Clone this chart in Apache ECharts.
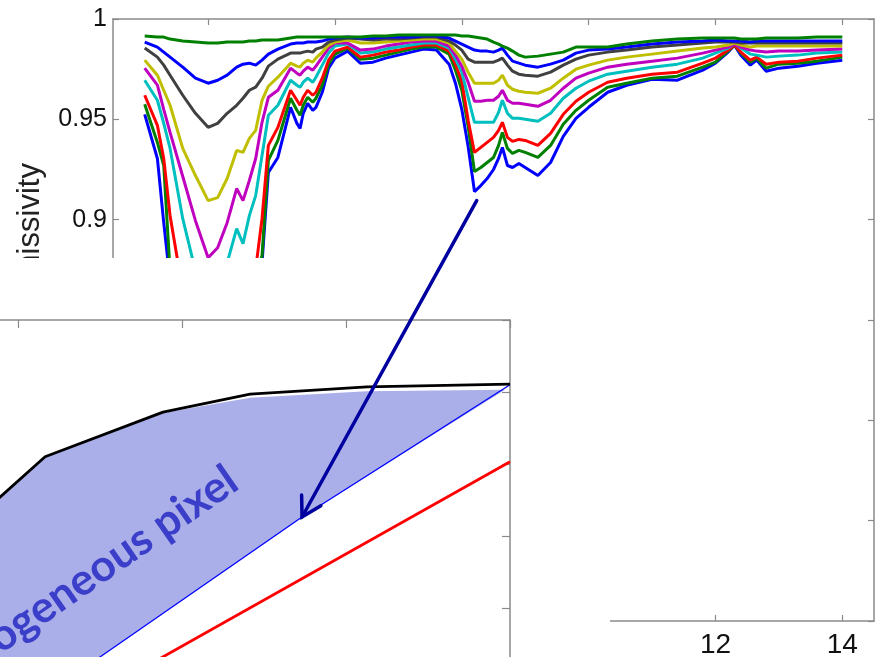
<!DOCTYPE html>
<html>
<head>
<meta charset="utf-8">
<script src="https://cdn.jsdelivr.net/npm/echarts@6/dist/echarts.min.js"></script>
<style>
  html, body { margin: 0; padding: 0; background: #fff; }
  #chart { width: 876px; height: 657px; }
</style>
</head>
<body>
<div id="chart"></div>
<script>
// ---- spectra (top panel) ----
const wavelength = [3.0,3.2,3.3,3.4,3.6,3.8,4.0,4.15,4.3,4.45, 4.55,4.65,4.75,4.85,4.95,5.1,5.3,5.4,5.45,5.5, 5.57,5.65,5.7,5.8,5.9,6.0,6.2,6.4,6.6,6.8, 7.0,7.2,7.4,7.6,7.8,7.9,8.0,8.1,8.2,8.3, 8.4,8.5,8.58,8.64,8.72,8.8,8.9,9.0,9.2,9.4, 9.6,9.8,10.0,10.3,10.6,11.0,11.4,11.8,12.0,12.2, 12.3,12.4,12.55,12.65,12.8,13.0,13.3,13.6,14.0];

const emisBlue1 = [.9525,.9305,.8985,.8695,.8445,.8295,.822,.8245,.8295,.8395, .847,.857,.8645,.8785,.9235,.931,.956,.948,.9455,.953, .958,.9545,.956,.9635,.9755,.9805,.984,.978,.9785,.9805, .982,.9835,.985,.9845,.9775,.968,.955,.9365,.914,.917, .9205,.925,.9305,.936,.927,.926,.928,.926,.922,.9285, .9415,.9505,.956,.9635,.967,.970,.9695,.9745,.978,.9835, .987,.982,.977,.9795,.974,.9755,.9765,.978,.9795];
const emisGreen1 = [.9575,.9385,.927,.8745,.8545,.8395,.832,.8345,.8395,.8495, .857,.8645,.872,.882,.9295,.9395,.9605,.9545,.952,.957, .961,.9585,.9605,.967,.9775,.9825,.9855,.980,.9805,.982, .9835,.985,.986,.986,.9825,.9745,.9645,.9465,.924,.926, .9285,.931,.937,.9435,.9355,.933,.9345,.9335,.931,.937, .9475,.9545,.9595,.966,.968,.9705,.9715,.976,.9785,.984, .987,.983,.9785,.9805,.9755,.9775,.978,.979,.981];
const emisRed = [.962,.947,.9305,.902,.8645,.8495,.842,.8445,.8495,.857, .862,.8695,.8755,.9005,.937,.946,.9645,.9595,.957,.961, .9645,.962,.9635,.9705,.9795,.984,.986,.981,.982,.9835, .9845,.986,.987,.987,.984,.9775,.969,.9495,.9335,.936, .9385,.941,.9445,.9485,.941,.939,.940,.9395,.937,.943, .9525,.959,.9635,.9685,.9705,.9725,.9735,.978,.9805,.9845, .987,.9835,.9795,.981,.9775,.9785,.979,.9805,.982];
const emisCyan = [.9695,.9595,.948,.9355,.9005,.8745,.8645,.867,.8785,.8955, .888,.902,.912,.932,.952,.957,.9695,.967,.966,.9685, .9705,.9685,.971,.977,.983,.9865,.9875,.983,.9835,.985, .986,.987,.988,.988,.9855,.980,.9735,.961,.9485,.9485, .9485,.9485,.9535,.9595,.953,.9505,.9505,.950,.949,.953, .9605,.9655,.969,.9725,.974,.976,.9775,.9805,.983,.9855, .9875,.9855,.9825,.982,.981,.9815,.982,.983,.9835];
const emisMagenta = [.9755,.967,.955,.9435,.9215,.8995,.881,.886,.8985,.9155, .9095,.9195,.9305,.9485,.961,.9645,.9755,.973,.972,.974, .976,.9745,.9765,.981,.9855,.988,.988,.9845,.985,.9865, .9875,.9885,.989,.989,.9865,.982,.9765,.9685,.959,.959, .9595,.9595,.9615,.9645,.9595,.958,.958,.9575,.9565,.9595, .9655,.9705,.973,.976,.9775,.979,.9805,.983,.9845,.986, .9875,.986,.9845,.984,.9835,.984,.984,.9845,.985];
const emisYellow = [.9795,.972,.9645,.957,.9355,.922,.9095,.911,.9205,.9345, .9335,.9405,.9445,.9595,.9665,.971,.978,.9765,.976,.978, .9795,.9785,.9805,.9835,.987,.9885,.9895,.988,.988,.9885, .989,.9895,.990,.990,.988,.984,.980,.9735,.968,.968, .968,.968,.9695,.972,.967,.965,.964,.9635,.963,.9655, .9705,.975,.977,.9795,.981,.9825,.984,.9855,.986,.987, .988,.987,.986,.9865,.9865,.9865,.9865,.9865,.9865];
const emisBlack = [.9855,.981,.977,.972,.962,.953,.946,.948,.953,.957, .9605,.9645,.966,.9705,.9765,.980,.983,.983,.983,.9835, .984,.9835,.985,.986,.9885,.9895,.9905,.990,.9895,.990, .990,.9905,.991,.991,.989,.987,.9845,.980,.9785,.9785, .9785,.9785,.9795,.9805,.977,.974,.9725,.972,.9715,.9735, .977,.980,.982,.9835,.9845,.986,.987,.988,.9885,.9885, .9885,.988,.988,.988,.988,.988,.988,.988,.988];
const emisBlue2 = [.9885,.986,.9835,.981,.976,.9705,.968,.9695,.972,.976, .9775,.978,.977,.9795,.9825,.985,.9875,.988,.988,.988, .9885,.9885,.9885,.989,.990,.9905,.991,.9905,.9905,.991, .991,.991,.9915,.9915,.9905,.989,.9875,.986,.9845,.984, .984,.9835,.9845,.9855,.982,.979,.978,.977,.976,.9775, .9795,.983,.9845,.985,.986,.9875,.9885,.989,.9895,.989, .989,.989,.9885,.989,.989,.989,.989,.989,.989];
const emisGreen2 = [.9915,.991,.991,.990,.989,.9885,.988,.988,.9885,.9885, .9885,.989,.989,.9895,.9895,.9895,.9905,.991,.991,.991, .991,.991,.991,.991,.991,.991,.991,.991,.9915,.9915, .992,.992,.992,.992,.992,.992,.9915,.9915,.991,.9905, .990,.9885,.9875,.9865,.9855,.984,.982,.981,.9815,.9825, .9835,.986,.986,.986,.9875,.989,.990,.9905,.9905,.9905, .9905,.990,.990,.990,.9905,.9905,.9905,.991,.991];

const xTickValues = [4, 6, 8, 10, 12, 14];

// ---- inset panel ----
const envelopeX = [0.5, 0.89, 1.165, 1.884, 2.415, 3.128, 4.0];
const envelopeY = [1.75, 2.54, 3.10, 3.72, 3.97, 4.07, 4.11];
const fillTopX = [0.5, 0.89, 1.165, 1.884, 2.415, 3.128, 3.97];
const fillTopY = [1.75, 2.54, 3.10, 3.71, 3.92, 4.01, 4.03];
const blueX = [0.5, 1.5, 2.732, 4.0];
const blueY = [-1.26, 0.32, 2.264, 4.10];
const redX = [1.5, 4.0];
const redY = [-0.17, 3.03];

// arrow: from a point on the top spectra to the blue line of the inset
const arrowFrom = [8.235, 0.9095];
const arrowTo = [2.732, 2.264];

const gray = '#8a8a8a';
const chart = echarts.init(document.getElementById('chart'));

function pairs(xs, ys) {
  return xs.map((x, i) => [x, ys[i]]);
}

const spectra = [
  ['#0000ff', emisBlue1], ['#008000', emisGreen1], ['#ff0000', emisRed],
  ['#00bfbf', emisCyan], ['#bf00bf', emisMagenta], ['#bfbf00', emisYellow],
  ['#404040', emisBlack], ['#0000ff', emisBlue2], ['#008000', emisGreen2]
];

const spectraSeries = spectra.map(([color, vals], i) => ({
  type: 'line',
  xAxisIndex: 0,
  yAxisIndex: 0,
  data: pairs(wavelength, vals),
  showSymbol: false,
  lineStyle: { color: color, width: 3 },
  z: 2 + i * 0.01,
  silent: true
}));

function frameAxis(extra) {
  return Object.assign({
    type: 'value',
    axisLine: { show: true, onZero: false, lineStyle: { color: gray, width: 1.5 } },
    axisTick: { show: true, inside: true, length: 6, lineStyle: { color: gray, width: 1.2 } },
    axisLabel: { show: false },
    splitLine: { show: false }
  }, extra);
}

const option = {
  animation: false,
  backgroundColor: '#fff',
  grid: [
    { left: 113, top: 19, width: 761, height: 602, outerBoundsMode: 'none', containLabel: false },
    { left: -146, top: 320, width: 656, height: 432, outerBoundsMode: 'none', containLabel: false }
  ],
  xAxis: [
    frameAxis({
      gridIndex: 0, min: 2.5, max: 14.5, position: 'bottom',
      axisTick: { inside: true, length: 6, customValues: xTickValues, lineStyle: { color: gray, width: 1.2 } },
      axisLabel: { customValues: xTickValues, fontSize: 28, margin: 10, color: '#111', fontFamily: 'Liberation Sans' }
    }),
    frameAxis({
      gridIndex: 0, min: 2.5, max: 14.5, position: 'top',
      axisTick: { inside: true, length: 6, customValues: xTickValues, lineStyle: { color: gray, width: 1.2 } }
    }),
    frameAxis({
      gridIndex: 1, min: 0, max: 4, interval: 1, position: 'top', z: 10,
      axisTick: { inside: true, length: 8, lineStyle: { color: gray, width: 1.2 } }
    })
  ],
  yAxis: [
    frameAxis({
      gridIndex: 0, min: 0.7, max: 1, interval: 0.05, position: 'left',
      axisLabel: { fontSize: 25, margin: 6, color: '#111', fontFamily: 'Liberation Sans' }
    }),
    frameAxis({ gridIndex: 0, min: 0.7, max: 1, interval: 0.05, position: 'right' }),
    frameAxis({
      gridIndex: 1, min: -1, max: 5, interval: 1, position: 'right', z: 10,
      axisTick: { inside: true, length: 8, lineStyle: { color: gray, width: 1.2 } }
    })
  ],
  series: spectraSeries.concat([
    {
      type: 'custom', xAxisIndex: 2, yAxisIndex: 2, z: 11, silent: true,
      data: [0],
      renderItem: function (params, api) {
        const pts = pairs(fillTopX, fillTopY)
          .concat(pairs(blueX, blueY).slice(0, -1).reverse())
          .map(p => api.coord(p));
        return { type: 'polygon', shape: { points: pts }, style: { fill: 'rgb(170,174,233)' } };
      }
    },
    {
      type: 'line', xAxisIndex: 2, yAxisIndex: 2, z: 12, silent: true,
      data: pairs(blueX, blueY), showSymbol: false,
      lineStyle: { color: '#0000ff', width: 1.3 }
    },
    {
      type: 'line', xAxisIndex: 2, yAxisIndex: 2, z: 12, silent: true,
      data: pairs(redX, redY), showSymbol: false,
      lineStyle: { color: '#ff0000', width: 2.8 }
    },
    {
      type: 'line', xAxisIndex: 2, yAxisIndex: 2, z: 13, silent: true,
      data: pairs(envelopeX, envelopeY), showSymbol: false,
      lineStyle: { color: '#000000', width: 2.8 }
    }
  ])
};

chart.setOption(option);

// annotation overlay
const p0 = chart.convertToPixel({ xAxisIndex: 0, yAxisIndex: 0 }, arrowFrom);
const p1 = chart.convertToPixel({ xAxisIndex: 2, yAxisIndex: 2 }, arrowTo);
const dx = p0[0] - p1[0], dy = p0[1] - p1[1];
const len = Math.sqrt(dx * dx + dy * dy);
const ux = dx / len, uy = dy / len;
function arm(sign) {
  const a = sign * Math.PI / 6, L = 22;
  return [p1[0] + L * (ux * Math.cos(a) - uy * Math.sin(a)), p1[1] + L * (ux * Math.sin(a) + uy * Math.cos(a))];
}

chart.setOption({
  graphic: [
    {
      type: 'text', x: 30, y: 232, rotation: Math.PI / 2, z: 1, silent: true,
      style: { text: 'Emissivity', font: '31px "Liberation Sans"', fill: '#222', align: 'center', verticalAlign: 'middle', textAlign: 'center', textVerticalAlign: 'middle' }
    },
    {
      type: 'rect', z: 5, silent: true,
      shape: { x: 0, y: 258, width: 610, height: 400 },
      style: { fill: '#ffffff' }
    },
    {
      type: 'text', x: 233, y: 476, rotation: 0.606, z: 20, silent: true,
      style: { text: 'Heterogeneous pixel', font: 'bold 44px Lato', fill: '#3a3ec8', align: 'right', verticalAlign: 'middle', textAlign: 'right', textVerticalAlign: 'middle' }
    },
    {
      type: 'polyline', z: 21, silent: true,
      shape: { points: [p0, p1] },
      style: { stroke: '#0000a0', lineWidth: 3.5, lineCap: 'round' }
    },
    {
      type: 'polyline', z: 21, silent: true,
      shape: { points: [arm(1), p1, arm(-1)] },
      style: { stroke: '#0000a0', lineWidth: 3.5, lineCap: 'round', lineJoin: 'miter', fill: null }
    }
  ]
});
</script>
</body>
</html>
